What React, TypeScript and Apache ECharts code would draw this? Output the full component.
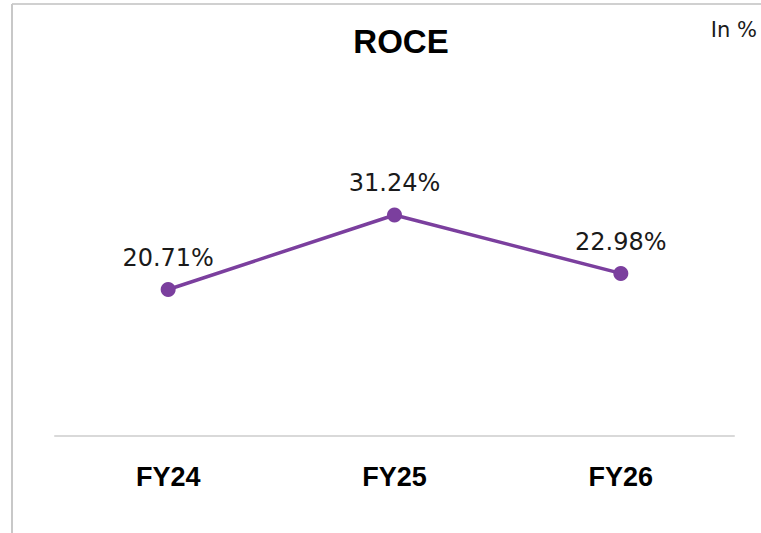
import React, { useEffect, useRef } from "react";
import * as echarts from "echarts";

const categories = ["FY24", "FY25", "FY26"];
const roceValues = [20.71, 31.24, 22.98];
const titleText = "ROCE";
const unitText = "In %";

export default function App() {
  const ref = useRef<HTMLDivElement>(null);
  useEffect(() => {
    if (!ref.current) return;
    const chart = echarts.init(ref.current, null, { renderer: "svg" });
    chart.setOption({
      animation: false,
      backgroundColor: "#ffffff",
      title: {
        text: titleText,
        left: 396,
        top: 20,
        textAlign: "center",
        textStyle: {
          fontFamily: "Liberation Sans, Arial, sans-serif",
          fontWeight: "bold",
          fontSize: 33,
          color: "#000000",
        },
      },
      graphic: [
        { type: "line", shape: { x1: 12, y1: 4, x2: 761, y2: 4 }, style: { stroke: "#d0d0d0", lineWidth: 2 } },
        { type: "line", shape: { x1: 12, y1: 4, x2: 12, y2: 533 }, style: { stroke: "#c8c8c8", lineWidth: 2 } },
        {
          type: "text",
          x: 757,
          y: 30,
          style: {
            text: unitText,
            align: "right",
            verticalAlign: "middle",
            fontFamily: "DejaVu Sans, sans-serif",
            fontSize: 21,
            fill: "#1a1a1a",
          },
        },
      ],
      grid: { left: 55, right: 27, top: 153, bottom: 97 },
      xAxis: {
        type: "category",
        data: categories,
        boundaryGap: true,
        axisLine: { show: true, lineStyle: { color: "#d9d9d9", width: 2 } },
        axisTick: { show: false },
        axisLabel: {
          margin: 27,
          fontFamily: "Liberation Sans, Arial, sans-serif",
          fontWeight: "bold",
          fontSize: 27,
          color: "#000000",
        },
      },
      yAxis: {
        type: "value",
        min: 0,
        max: 40,
        show: false,
        splitLine: { show: false },
      },
      series: [
        {
          type: "line",
          data: roceValues,
          symbol: "circle",
          symbolSize: 15,
          lineStyle: { color: "#7b3f9e", width: 3.5 },
          itemStyle: { color: "#7b3f9e" },
          label: {
            show: true,
            position: "top",
            distance: 12,
            formatter: (p: any) => p.value.toFixed(2) + "%",
            fontFamily: "DejaVu Sans, sans-serif",
            fontSize: 24,
            color: "#1a1a1a",
          },
        },
      ],
    });
    return () => chart.dispose();
  }, []);
  return (
    <div
      ref={ref}
      style={{ position: "fixed", left: 0, top: 0, width: 761, height: 533 }}
    />
  );
}
